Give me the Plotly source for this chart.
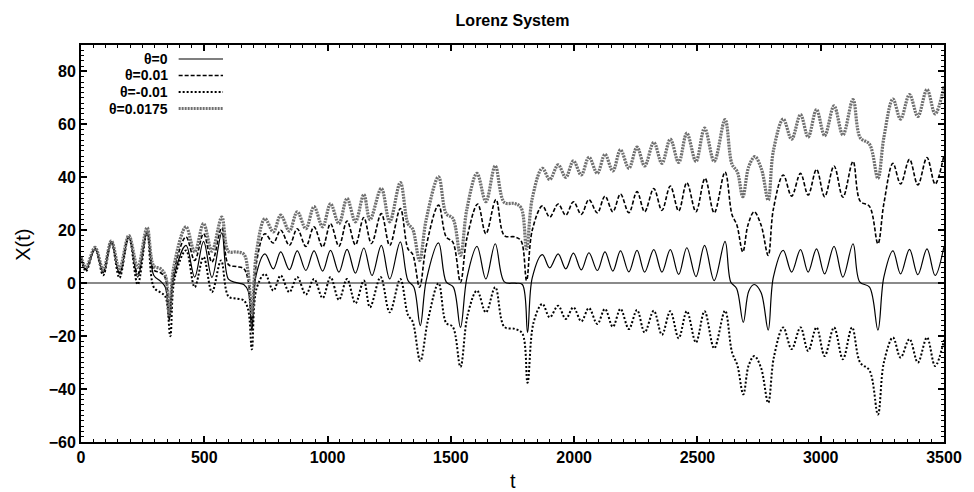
import plotly.graph_objects as go

# ---------------- data ----------------
# theta = 0
T_THETA_0 = [0, 20, 57, 90, 123, 156, 194, 230, 268, 295,
             322, 342, 358, 376, 426, 461, 497, 531, 571, 598,
             630, 660, 678, 693, 710, 746, 780, 810, 845, 877,
             912, 945, 980, 1012, 1046, 1079, 1113, 1147, 1180, 1218,
             1252, 1295, 1326, 1350, 1376, 1400, 1450, 1481, 1510, 1539,
             1565, 1606, 1642, 1680, 1717, 1760, 1790, 1811, 1830, 1871,
             1901, 1935, 1966, 1997, 2029, 2060, 2094, 2125, 2157, 2188,
             2222, 2255, 2286, 2323, 2356, 2390, 2424, 2457, 2494, 2529,
             2568, 2612, 2635, 2659, 2686, 2708, 2730, 2758, 2787, 2808,
             2848, 2882, 2918, 2949, 2983, 3016, 3054, 3090, 3131, 3158,
             3198, 3232, 3256, 3293, 3324, 3360, 3394, 3431, 3464, 3500]
X_THETA_0 = [10, 5, 13, 4, 15.6, 3.5, 17.5, 2.3, 19.4, 3,
             0.8, -1.5, -14, 2, 14.3, 2.3, 15.8, 2.2, 19, 1.5,
             0.2, -0.5, -3, -18, 3, 11.1, 5.4, 11.8, 5.1, 12.2,
             4.8, 12.2, 4.6, 12.4, 4.2, 12.8, 3.8, 13.3, 2.9, 14.3,
             1.6, 15.6, 1, -1.5, -16, 1, 15.2, 0.5, -1.5, -16.7,
             2, 13.9, 1.6, 14.9, 0.5, 0, -0.5, -18.6, 2, 10.8,
             5.8, 11.1, 5.4, 11.4, 5, 11.5, 4.8, 11.8, 4.6, 12.2,
             4.3, 12.4, 4.2, 12.7, 4.2, 12.7, 3.3, 13.4, 2.5, 14.3,
             1, 15.8, 0.5, -2, -14.8, -3, -0.5, -3.5, -17.7, 2.3,
             12.4, 4.2, 12.7, 4.2, 13, 3.5, 13.9, 2.3, 14.9, 0.5,
             -1.5, -17.7, 2.3, 12.2, 3.5, 12.8, 3.2, 13, 2.9, 13.9]

# theta = 0.01
T_THETA_P01 = [0, 20, 57, 90, 123, 156, 194, 230, 268, 295,
               322, 342, 358, 376, 426, 461, 497, 531, 571, 598,
               630, 660, 678, 693, 712, 746, 780, 810, 845, 877,
               912, 945, 980, 1012, 1046, 1079, 1113, 1147, 1178, 1218,
               1252, 1295, 1326, 1345, 1373, 1400, 1450, 1481, 1508, 1539,
               1565, 1609, 1642, 1683, 1717, 1760, 1785, 1807, 1830, 1871,
               1901, 1935, 1966, 1997, 2029, 2060, 2094, 2125, 2157, 2188,
               2222, 2255, 2286, 2323, 2356, 2390, 2424, 2457, 2494, 2531,
               2568, 2612, 2640, 2660, 2684, 2705, 2730, 2758, 2787, 2808,
               2848, 2882, 2918, 2949, 2983, 3016, 3054, 3090, 3131, 3160,
               3198, 3232, 3256, 3293, 3324, 3360, 3394, 3431, 3464, 3500]
X_THETA_P01 = [10, 5.5, 13, 4.5, 15.6, 4, 17.5, 3.5, 19.5, 5,
               4, 2, -13, 4, 17.5, 8.6, 18.7, 8, 21, 7,
               6.3, 5.5, 1, -15, 8, 18.7, 15.2, 20, 14.3, 20.6,
               13.9, 21.3, 13.7, 22.5, 14, 23.5, 14.5, 24.8, 15, 26.3,
               14.3, 28.2, 13, 11, -1.5, 14, 29.5, 17.5, 15.5, 0.4,
               17, 29.9, 18.7, 31.6, 18, 17.5, 16, 1, 20, 29.2,
               25, 29.9, 25.7, 30.8, 26, 31.6, 26.6, 32.9, 27, 33.7,
               26.6, 34.6, 27, 35.8, 27.5, 36.7, 27.3, 38, 27, 39.6,
               26.6, 42, 26, 22, 11.8, 22, 27, 22, 10.5, 28,
               40.9, 32.9, 41.5, 33.3, 43, 32.7, 44.3, 32.5, 46, 31,
               29, 14.9, 30, 45.3, 37.5, 46.8, 37.1, 47.5, 37.5, 48.5]

# theta = -0.01
T_THETA_M01 = [0, 20, 57, 90, 123, 156, 194, 230, 268, 295,
               322, 342, 362, 380, 426, 461, 497, 531, 568, 598,
               630, 660, 678, 693, 712, 746, 780, 810, 845, 877,
               912, 945, 980, 1012, 1046, 1079, 1113, 1147, 1172, 1215,
               1252, 1295, 1326, 1345, 1376, 1407, 1450, 1481, 1508, 1539,
               1568, 1606, 1642, 1680, 1717, 1760, 1790, 1811, 1835, 1871,
               1901, 1935, 1966, 1997, 2029, 2060, 2094, 2125, 2157, 2188,
               2222, 2255, 2286, 2323, 2356, 2390, 2424, 2457, 2494, 2529,
               2568, 2612, 2640, 2662, 2686, 2708, 2731, 2758, 2787, 2810,
               2848, 2882, 2918, 2949, 2983, 3016, 3054, 3090, 3127, 3160,
               3198, 3232, 3256, 3293, 3324, 3360, 3394, 3431, 3464, 3500]
X_THETA_M01 = [10, 4.5, 13, 3, 15.5, 2, 17.5, -0.5, 19.5, -1.5,
               -3.5, -5, -20, 2, 12.4, -1.5, 9.9, -3.4, 8.6, -5,
               -5.8, -6.5, -10, -25, -2, 3.5, -2.8, 2.9, -3.4, 2.3,
               -4.3, 1.6, -5.6, 2.3, -6.3, 1.6, -7.6, 1, -9.1, 2.3,
               -11, 1.6, -12, -14.5, -29.4, -14, 0, -15, -16.5, -31.6,
               -12, -2.8, -11, -1.5, -16.5, -17.3, -19, -37.6, -15, -7.8,
               -12.9, -8.5, -13.5, -9.1, -14.4, -9.4, -15.4, -9.7, -16.5, -9.7,
               -17.3, -10.1, -18.6, -10.4, -19.5, -10.6, -20.8, -10.6, -22.4, -10.6,
               -24.6, -10.4, -26, -31, -42, -31, -27.5, -32, -45.2, -28,
               -16.7, -24.9, -16.7, -25.6, -16.7, -27.5, -16.7, -28.7, -16.7, -30,
               -33, -49.6, -30, -20.5, -28.1, -21.1, -30, -20.5, -31.3, -21.5]

# theta = 0.0175
T_THETA_P0175 = [0, 20, 57, 90, 123, 156, 194, 230, 268, 295,
                 322, 342, 358, 376, 426, 461, 497, 531, 571, 598,
                 630, 660, 678, 693, 712, 746, 780, 810, 845, 877,
                 912, 945, 980, 1012, 1046, 1079, 1113, 1147, 1172, 1218,
                 1252, 1295, 1326, 1345, 1373, 1400, 1450, 1481, 1508, 1539,
                 1565, 1606, 1642, 1680, 1717, 1760, 1785, 1807, 1830, 1871,
                 1901, 1935, 1966, 1997, 2029, 2060, 2094, 2125, 2157, 2188,
                 2222, 2255, 2286, 2323, 2356, 2390, 2424, 2457, 2494, 2529,
                 2568, 2612, 2640, 2662, 2684, 2708, 2733, 2760, 2787, 2808,
                 2848, 2882, 2918, 2949, 2983, 3016, 3054, 3090, 3131, 3160,
                 3198, 3232, 3256, 3293, 3324, 3360, 3394, 3431, 3464, 3500]
X_THETA_P0175 = [10, 6, 13.5, 5, 16, 5.5, 18, 6, 21, 6.5,
                 5.5, 3, -12, 6, 21.3, 11.8, 22.5, 12.1, 25, 12,
                 11.8, 11, 4, -12, 12, 24.4, 19.4, 25.7, 19.7, 27,
                 20.6, 28.9, 21.3, 30, 22.5, 32, 23.2, 33.5, 24, 35.8,
                 23.2, 38, 22.5, 20.5, 8.6, 24, 40.2, 26.3, 24.5, 10.5,
                 28, 41.5, 30.8, 44.3, 30.5, 30.1, 28.5, 13, 32, 43.4,
                 39.2, 44.7, 40, 46.2, 40.9, 47.6, 41.5, 48.7, 42.4, 50.4,
                 43.4, 51.4, 44.3, 53.2, 45.3, 54.4, 45.6, 56.7, 46, 58.6,
                 46, 61.8, 45, 42, 32.7, 44, 47.8, 43, 31.4, 50,
                 62, 54.4, 63.7, 55.2, 65.6, 55.7, 67, 56, 69.4, 55,
                 52.5, 39.6, 55, 69.6, 62, 71.3, 63, 73.2, 64, 74.4]

SERIES_NAMES = ["θ=0", "θ=0.01", "θ=-0.01", "θ=0.0175"]
X_TICKS = [0, 500, 1000, 1500, 2000, 2500, 3000, 3500]
Y_TICKS = [-60, -40, -20, 0, 20, 40, 60, 80]

# ---------------- styling ----------------
FONT = "Liberation Sans, Arial, Helvetica, sans-serif"
styles = [
    dict(color="black", width=1.2, dash="solid"),
    dict(color="black", width=1.6, dash="4px,2px"),
    dict(color="black", width=2.0, dash="2px,2px"),
    dict(color="#707070", width=3.2, dash="2px,1px"),
]
series = [
    (T_THETA_0, X_THETA_0),
    (T_THETA_P01, X_THETA_P01),
    (T_THETA_M01, X_THETA_M01),
    (T_THETA_P0175, X_THETA_P0175),
]

fig = go.Figure()
for name, (tt, xx), st in zip(SERIES_NAMES, series, styles):
    assert len(tt) == len(xx), name
    fig.add_trace(go.Scatter(
        x=tt, y=xx, mode="lines", name=name,
        line=dict(color=st["color"], width=st["width"], dash=st["dash"],
                  shape="spline", smoothing=1.0),
        showlegend=False,
    ))

# plot area geometry in pixels (for legend placement)
L, R, T, B = 81, 956, 45, 442
W, H = 974, 492

def px_x(x):
    return (x - L) / (R - L)

def px_y(y):
    return (B - y) / (B - T)

legend_rows = [59, 75.5, 92, 108.5]
annotations = []
shapes = []
for name, st, row in zip(SERIES_NAMES, styles, legend_rows):
    annotations.append(dict(
        text=name, xref="paper", yref="paper", x=px_x(171), y=px_y(row),
        xanchor="right", yanchor="middle", showarrow=False,
        font=dict(family=FONT, size=14, color="black", weight="bold"),
    ))
    shapes.append(dict(
        type="line", xref="paper", yref="paper",
        x0=px_x(180), x1=px_x(225), y0=px_y(row), y1=px_y(row),
        line=dict(color=st["color"], width=st["width"], dash=st["dash"]),
    ))

annotations.append(dict(
    text="t", xref="paper", yref="paper", x=0.5, y=px_y(481),
    xanchor="center", yanchor="middle", showarrow=False,
    font=dict(family=FONT, size=20, color="black"),
))
annotations.append(dict(
    text="X(t)", xref="paper", yref="paper", x=px_x(22), y=px_y(245),
    xanchor="center", yanchor="middle", showarrow=False, textangle=-90,
    font=dict(family=FONT, size=20, color="black"),
))

axis_common = dict(
    showgrid=False, showline=True, linecolor="black", linewidth=2,
    mirror="ticks", ticks="inside", ticklen=6, tickwidth=1.5, tickcolor="black",
    tickfont=dict(family=FONT, size=16, color="black", weight="bold"),
)

fig.update_layout(
    width=W, height=H, autosize=False,
    margin=dict(l=L, r=W - R, t=T, b=H - B),
    plot_bgcolor="white", paper_bgcolor="white",
    showlegend=False,
    title=dict(text="Lorenz System", x=0.5, xref="paper", xanchor="center",
               y=1 - 20 / H, yref="container", yanchor="middle",
               font=dict(family=FONT, size=16, color="black", weight="bold")),
    xaxis=dict(range=[0, 3500], tickvals=X_TICKS, zeroline=False,
               minor=dict(dtick=50, ticks="inside", ticklen=3, tickwidth=1, tickcolor="black"),
               **axis_common),
    yaxis=dict(range=[-60, 90], tickvals=Y_TICKS, zeroline=True,
               zerolinecolor="#8a8a8a", zerolinewidth=1.5,
               minor=dict(dtick=2, ticks="inside", ticklen=3, tickwidth=1, tickcolor="black"),
               **axis_common),
    annotations=annotations,
    shapes=shapes,
)

fig.write_html(
    "out.html",
    config={"responsive": False, "displayModeBar": False},
    post_script="document.body.style.margin='0';document.body.style.overflow='hidden';",
)
